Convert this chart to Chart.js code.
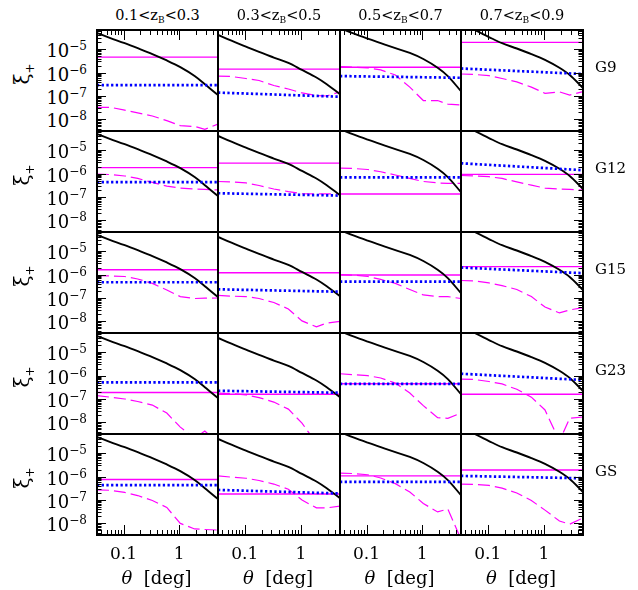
<!DOCTYPE html>
<html>
<head>
<meta charset="utf-8">
<script src="https://cdn.jsdelivr.net/npm/chart.js@4.4.0/dist/chart.umd.min.js"></script>
<style>
  body { margin: 0; background: #fff; }
  #wrap { position: relative; width: 638px; height: 590px; overflow: hidden; font-family: 'DejaVu Serif', serif; color: #000; }
  #wrap canvas { position: absolute; }
  .lbl { position: absolute; white-space: nowrap; line-height: 1; }
</style>
</head>
<body>
<div id="wrap"></div>
<script>
// angular bins [deg] shared by every curve
const theta = [0.0333, 0.058, 0.105, 0.18, 0.33, 0.6, 1.05, 1.9, 2.9, 5.0];

const zLow = ['0.1', '0.3', '0.5', '0.7'];
const zHigh = ['0.3', '0.5', '0.7', '0.9'];
const fields = ['G9', 'G12', 'G15', 'G23', 'GS'];

const xTickVals = [0.1, 1];
const xTickLabels = ['0.1', '1'];
const yTickVals = [1e-5, 1e-6, 1e-7, 1e-8];
const yTickExps = ['\u22125', '\u22126', '\u22127', '\u22128'];

// theory xi+ per tomographic bin (black)
const theoryZ1 = [4.9e-5, 3.0e-5, 1.8e-5, 1.1e-5, 6.2e-6, 3.3e-6, 1.7e-6, 7.1e-7, 3.2e-7, 1.1e-7];
const theoryZ2 = [4.1e-5, 2.3e-5, 1.3e-5, 7.6e-6, 4.4e-6, 2.6e-6, 1.3e-6, 6.2e-7, 3.2e-7, 1.2e-7];
const theoryZ3 = [8.1e-5, 4.7e-5, 2.8e-5, 1.8e-5, 1.1e-5, 6.9e-6, 3.8e-6, 1.6e-6, 7.1e-7, 1.6e-7];
const theoryZ4 = [1.07e-4, 6.6e-5, 3.3e-5, 1.8e-5, 1.07e-5, 6.2e-6, 3.5e-6, 1.6e-6, 7.9e-7, 2.2e-7];

// magenta solid level, one per z bin
const g9Solid = [4.6e-6, 1.4e-6, 1.7e-6, 1.95e-5];
const g12Solid = [1.8e-6, 2.8e-6, 1.35e-7, 9.3e-7];
const g15Solid = [1.6e-6, 1.2e-6, 9.6e-7, 2.2e-6];
const g23Solid = [1.9e-7, 1.6e-7, 4.5e-7, 1.6e-7];
const gsSolid = [7.5e-7, 1.8e-7, 1.07e-6, 1.9e-6];

// blue dotted, [value at first bin, value at last bin]
const g9Dotted = [[2.9e-7, 2.9e-7], [1.4e-7, 9.3e-8], [7.1e-7, 6.0e-7], [1.5e-6, 8.7e-7]];
const g12Dotted = [[4.3e-7, 4.3e-7], [1.45e-7, 1.15e-7], [6.9e-7, 6.9e-7], [2.75e-6, 1.4e-6]];
const g15Dotted = [[4.7e-7, 4.7e-7], [2.35e-7, 1.85e-7], [5.0e-7, 5.0e-7], [2.0e-6, 1.15e-6]];
const g23Dotted = [[5.1e-7, 5.1e-7], [2.25e-7, 1.85e-7], [4.4e-7, 4.4e-7], [1.2e-6, 6.5e-7]];
const gsDotted = [[4.3e-7, 4.3e-7], [2.7e-7, 1.9e-7], [5.9e-7, 5.9e-7], [1.07e-6, 8.5e-7]];

// magenta dashed, one row per z bin
const g9Dashed = [
  [3.3e-8, 3.3e-8, 2.5e-8, 1.9e-8, 1.4e-8, 8.9e-9, 5.4e-9, 5.0e-9, 3.8e-9, 6.3e-9],
  [7.1e-7, 6.8e-7, 5.6e-7, 4.6e-7, 2.8e-7, 2.0e-7, 1.35e-7, 1.05e-7, 1.0e-7, 1.5e-7],
  [1.8e-6, 1.7e-6, 1.6e-6, 1.3e-6, 7.9e-7, 2.4e-7, 6.4e-8, 6.4e-8, 4.5e-8, 4.1e-8],
  [8.7e-7, 8.3e-7, 7.4e-7, 5.6e-7, 4.0e-7, 2.4e-7, 1.3e-7, 1.5e-7, 1.1e-7, 1.55e-7]
];
const g12Dashed = [
  [9.5e-7, 9.1e-7, 7.9e-7, 6.2e-7, 4.2e-7, 2.9e-7, 2.4e-7, 2.2e-7, 2.1e-7, 2.0e-7],
  [4.6e-7, 4.4e-7, 4.0e-7, 3.1e-7, 2.2e-7, 1.7e-7, 1.4e-7, 1.35e-7, 1.35e-7, 1.35e-7],
  [1.7e-6, 1.65e-6, 1.5e-6, 1.2e-6, 8.7e-7, 6.2e-7, 4.6e-7, 4.0e-7, 3.8e-7, 3.8e-7],
  [8.3e-7, 7.9e-7, 7.4e-7, 6.2e-7, 4.4e-7, 3.2e-7, 2.4e-7, 2.2e-7, 2.1e-7, 2.0e-7]
];
const g15Dashed = [
  [9.1e-7, 8.7e-7, 8.3e-7, 6.5e-7, 4.2e-7, 2.2e-7, 1.15e-7, 9.5e-8, 9.8e-8, 1.0e-7],
  [1.3e-7, 1.2e-7, 1.15e-7, 9.5e-8, 6.4e-8, 3.4e-8, 1.05e-8, 5.9e-9, 8.5e-9, 1.0e-8],
  [1.0e-6, 9.5e-7, 8.3e-7, 6.2e-7, 4.2e-7, 2.3e-7, 1.35e-7, 1.15e-7, 1.15e-7, 9.5e-8],
  [5.6e-7, 5.4e-7, 4.4e-7, 3.4e-7, 2.3e-7, 1.15e-7, 4.1e-8, 2.3e-8, 3.1e-8, 3.9e-8]
];
const g23Dashed = [
  [1.4e-7, 1.2e-7, 1.0e-7, 7.8e-8, 5.5e-8, 2.5e-8, 6.3e-9, 2.1e-9, 4.3e-9, 1.3e-9],
  [1.8e-7, 1.7e-7, 1.5e-7, 1.15e-7, 7.4e-8, 3.7e-8, 9.3e-9, 1.3e-9, 1.0e-9, 1.0e-9],
  [1.2e-6, 1.1e-6, 1.0e-6, 7.9e-7, 4.8e-7, 1.8e-7, 5.2e-8, 1.6e-8, 1.5e-8, 2.5e-8],
  [7.1e-7, 6.8e-7, 5.6e-7, 4.4e-7, 2.6e-7, 1.2e-7, 3.4e-8, 1.6e-9, 1.5e-8, 1.7e-8]
];
const gsDashed = [
  [2.7e-7, 2.6e-7, 2.1e-7, 1.55e-7, 9.5e-8, 4.8e-8, 1.0e-8, 5.8e-9, 5.5e-9, 5.2e-9],
  [1.07e-6, 9.5e-7, 8.5e-7, 6.8e-7, 4.8e-7, 2.9e-7, 1.0e-7, 4.6e-8, 4.6e-8, 5.5e-8],
  [1.4e-6, 1.35e-6, 1.2e-6, 8.7e-7, 5.0e-7, 2.2e-7, 7.1e-8, 3.1e-8, 4.1e-8, 2.1e-9],
  [4.8e-7, 4.6e-7, 4.2e-7, 3.2e-7, 2.0e-7, 9.5e-8, 3.7e-8, 1.26e-8, 9.3e-9, 1.7e-8]
];

const theory = [theoryZ1, theoryZ2, theoryZ3, theoryZ4];
const solidRows = [g9Solid, g12Solid, g15Solid, g23Solid, gsSolid];
const dottedRows = [g9Dotted, g12Dotted, g15Dotted, g23Dotted, gsDotted];
const dashedRows = [g9Dashed, g12Dashed, g15Dashed, g23Dashed, gsDashed];

// panel grid
const colEdge = [97, 218, 340, 461, 583];
const rowEdge = [30, 131, 232, 333, 434, 535];
const PAD = 3;
const X_MIN = 1 / 30, X_MAX = 5;
const Y_MIN = 3.2e-9, Y_MAX = 6.6e-5;

const wrap = document.getElementById('wrap');

function addLabel(html, x, y, style, anchor) {
  const d = document.createElement('div');
  d.className = 'lbl';
  d.innerHTML = html;
  d.style.left = x + 'px';
  d.style.top = y + 'px';
  d.style.transform = anchor || 'translate(-50%,-50%)';
  Object.assign(d.style, style || {});
  wrap.appendChild(d);
  return d;
}

function logTicks(min, max) {
  const out = [];
  for (let e = -10; e <= 1; e++) {
    for (let m = 1; m <= 9; m++) {
      const v = m * Math.pow(10, e);
      if (v >= min * 0.999 && v <= max * 1.001) out.push({ v, major: m === 1 });
    }
  }
  return out;
}

function frameTicks(r, c) {
  return {
    id: 'frameTicks',
    afterDatasetsDraw(chart) {
      const { ctx, chartArea: a, scales: { x, y } } = chart;
      ctx.save();
      ctx.strokeStyle = '#000';
      ctx.lineWidth = 1;
      ctx.beginPath();
      if (r === 0 || r === 4) {
        logTicks(X_MIN, X_MAX).forEach(t => {
          const px = Math.round(x.getPixelForValue(t.v)) + 0.5;
          const len = t.major ? 10 : 5;
          if (r === 0) { ctx.moveTo(px, a.top); ctx.lineTo(px, a.top + len); }
          if (r === 4) { ctx.moveTo(px, a.bottom); ctx.lineTo(px, a.bottom - len); }
        });
      }
      if (c === 0 || c === 3) {
        logTicks(Y_MIN, Y_MAX).forEach(t => {
          const py = Math.round(y.getPixelForValue(t.v)) + 0.5;
          const len = t.major ? 9 : 4.5;
          if (c === 0) { ctx.moveTo(a.left, py); ctx.lineTo(a.left + len, py); }
          if (c === 3) { ctx.moveTo(a.right, py); ctx.lineTo(a.right - len, py); }
        });
      }
      ctx.stroke();
      ctx.lineWidth = 2;
      ctx.strokeRect(a.left, a.top, a.right - a.left, a.bottom - a.top);
      ctx.restore();
    }
  };
}

const pts = ys => theta.map((t, i) => ({ x: t, y: ys[i] }));
const ends = (y0, y1) => [{ x: theta[0], y: y0 }, { x: theta[theta.length - 1], y: y1 }];

fields.forEach((field, r) => {
  for (let c = 0; c < 4; c++) {
    const w = colEdge[c + 1] - colEdge[c];
    const h = rowEdge[r + 1] - rowEdge[r];
    const cv = document.createElement('canvas');
    cv.width = w + 2 * PAD;
    cv.height = h + 2 * PAD;
    cv.style.left = (colEdge[c] - PAD) + 'px';
    cv.style.top = (rowEdge[r] - PAD) + 'px';
    wrap.appendChild(cv);

    const dot = dottedRows[r][c];
    const solid = solidRows[r][c];

    const chart = new Chart(cv, {
      type: 'line',
      data: {
        datasets: [
          {
            data: ends(dot[0], dot[1]),
            borderColor: '#0000ff', borderWidth: 2.7, borderDash: [2.3, 2.4],
            borderCapStyle: 'butt', order: 0
          },
          {
            data: pts(theory[c]),
            borderColor: '#000', borderWidth: 1.9, cubicInterpolationMode: 'monotone', order: 1
          },
          {
            data: ends(solid, solid),
            borderColor: '#ff00ff', borderWidth: 1.4, order: 2
          },
          {
            data: pts(dashedRows[r][c]),
            borderColor: '#ff00ff', borderWidth: 1.2, borderDash: [12, 5], order: 3
          }
        ]
      },
      options: {
        responsive: false,
        animation: false,
        devicePixelRatio: 1,
        layout: { padding: PAD },
        elements: { point: { radius: 0 }, line: { tension: 0, fill: false } },
        datasets: { line: { clip: 0 } },
        plugins: { legend: { display: false }, tooltip: { enabled: false } },
        scales: {
          x: { type: 'logarithmic', min: X_MIN, max: X_MAX, display: false },
          y: { type: 'logarithmic', min: Y_MIN, max: Y_MAX, display: false }
        }
      },
      plugins: [frameTicks(r, c)]
    });

    // tick labels placed through the chart's own scales
    if (c === 0) {
      yTickVals.forEach((v, i) => {
        const py = rowEdge[r] - PAD + chart.scales.y.getPixelForValue(v);
        addLabel('10<sup style="font-size:12px;vertical-align:7px">' + yTickExps[i] + '</sup>',
          87, py + 1, { fontSize: '18px' }, 'translate(-100%,-50%)');
      });
    }
    if (r === 4) {
      xTickVals.forEach((v, i) => {
        const px = colEdge[c] - PAD + chart.scales.x.getPixelForValue(v);
        addLabel(xTickLabels[i], px, 553, { fontSize: '17px' });
      });
    }
  }
});

// column headers and x titles
for (let c = 0; c < 4; c++) {
  const cx = (colEdge[c] + colEdge[c + 1]) / 2;
  addLabel(zLow[c] + '&lt;z<span style="font-size:9px;position:relative;top:3px">B</span>&lt;' + zHigh[c],
    cx, 15, { fontSize: '14.5px' });
  addLabel('<i>\u03b8</i>&nbsp;&nbsp;[deg]', cx - 1, 578, { fontSize: '18px' });
}

// row labels and y titles
fields.forEach((field, r) => {
  addLabel(field, 595, rowEdge[r] + 37, { fontSize: '15px' }, 'translate(0,-50%)');
  addLabel('\u03be<sub style="font-size:12px">+</sub>', 24, rowEdge[r] + 44,
    { fontSize: '20px' }, 'translate(-50%,-50%) rotate(-90deg)');
});
</script>
</body>
</html>
